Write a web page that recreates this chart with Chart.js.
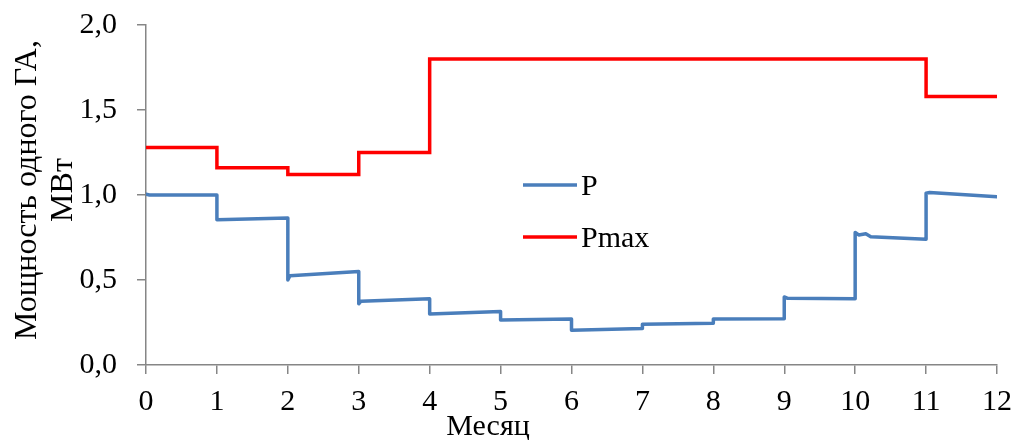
<!DOCTYPE html>
<html><head><meta charset="utf-8">
<script src="https://cdn.jsdelivr.net/npm/chart.js@4/dist/chart.umd.min.js"></script>
<style>html,body{margin:0;padding:0;background:#fff}#w{width:1018px;height:440px}</style>
</head><body><div id="w"><canvas id="c" width="1018" height="440"></canvas></div>
<script>
// Data
const monthTicks = [0,1,2,3,4,5,6,7,8,9,10,11,12];
const pX = [0, 0.05, 1, 1, 2, 2, 2.03, 3, 3, 3.03, 4, 4, 5, 5, 6, 6, 7, 7, 8, 8, 9, 9, 9.05, 10, 10, 10.05, 10.15, 10.22, 11, 11, 11.05, 12];
const pY = [1.005, 1.0, 1.0, 0.855, 0.865, 0.50, 0.525, 0.55, 0.36, 0.375, 0.39, 0.30, 0.315, 0.265, 0.27, 0.205, 0.215, 0.24, 0.245, 0.27, 0.272, 0.40, 0.392, 0.39, 0.78, 0.765, 0.772, 0.755, 0.74, 1.01, 1.015, 0.99];
const pmaxLevels = [1.28, 1.16, 1.12, 1.25, 1.80, 1.80, 1.80, 1.80, 1.80, 1.80, 1.80, 1.58];
const seriesNames = ['P', 'Pmax'];
const xTitle = 'Месяц';
const yTitle = ['Мощность одного ГА,', 'МВт'];

const FONT = "'Liberation Serif', 'Times New Roman', serif";
const GRAY = '#868686';
const BLUE = '#4a7ebb';
const RED = '#ff0000';

const pData = pX.map((x,i)=>({x, y:pY[i]}));
const pmaxData = [];
pmaxLevels.forEach((v,i)=>{ pmaxData.push({x:monthTicks[i], y:v}); pmaxData.push({x:monthTicks[i+1], y:v}); });

const customPlugin = {
  id:'custom',
  afterDraw(chart){
    const ctx = chart.ctx;
    ctx.save();
    const items = [{t:seriesNames[0], c:BLUE, y:185},{t:seriesNames[1], c:RED, y:237}];
    ctx.font = "30px " + FONT;
    ctx.textBaseline = 'alphabetic';
    ctx.fillStyle = '#000';
    items.forEach(it=>{
      ctx.strokeStyle = it.c; ctx.lineWidth = 3.5;
      ctx.beginPath(); ctx.moveTo(523, it.y); ctx.lineTo(577, it.y); ctx.stroke();
      ctx.fillText(it.t, 581, it.y+10);
    });
    ctx.textAlign = 'center';
    ctx.fillText(xTitle, 488, 435);
    // y title
    ctx.font = "32px " + FONT;
    ctx.translate(36, 190);
    ctx.rotate(-Math.PI/2);
    yTitle.forEach((t,i)=>ctx.fillText(t, 0, i*36));
    ctx.restore();
  }
};

new Chart(document.getElementById('c'), {
  type:'line',
  data:{datasets:[
    {label:seriesNames[0], data:pData, borderColor:BLUE, borderWidth:3.5, pointRadius:0, tension:0, fill:false, borderJoinStyle:'round', borderCapStyle:'round'},
    {label:seriesNames[1], data:pmaxData, borderColor:RED, borderWidth:3.5, pointRadius:0, tension:0, fill:false}
  ]},
  options:{
    responsive:false, animation:false,
    layout:{padding:{top:25, right:21, left:0, bottom:0}},
    plugins:{legend:{display:false}, tooltip:{enabled:false}},
    scales:{
      x:{type:'linear', min:0, max:12,
        afterFit(s){ s.height = 75; s.paddingLeft = 0; s.paddingRight = 0; },
        afterBuildTicks(s){ s.ticks = monthTicks.map(v=>({value:v})); },
        border:{color:GRAY, width:1.5},
        grid:{drawOnChartArea:false, drawTicks:true, tickLength:9, color:GRAY, lineWidth:1.5},
        ticks:{color:'#000', font:{family:FONT, size:30}, padding:10, maxRotation:0, autoSkip:false}
      },
      y:{min:0, max:2,
        afterFit(s){ s.width = 146; s.paddingTop = 0; s.paddingBottom = 0; },
        border:{color:GRAY, width:1.5},
        grid:{drawOnChartArea:false, drawTicks:true, tickLength:9, color:GRAY, lineWidth:1.5},
        ticks:{stepSize:0.5, color:'#000', font:{family:FONT, size:30}, padding:20,
          callback:v=>v.toFixed(1).replace('.', ',')},
        title:{display:false}
      }
    }
  },
  plugins:[customPlugin]
});
</script>
</body></html>
